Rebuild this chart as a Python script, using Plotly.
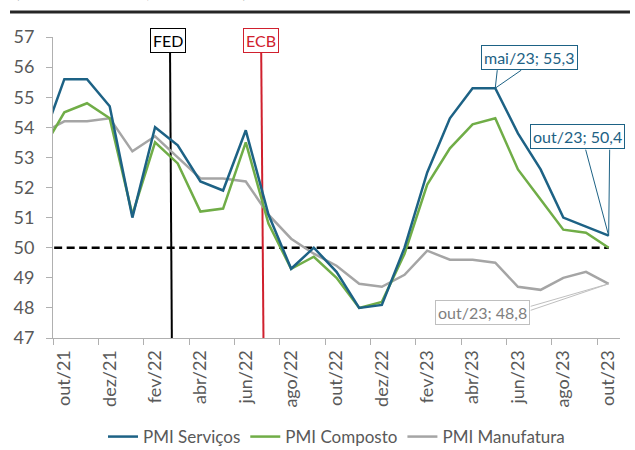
import plotly.graph_objects as go

# ---- data ----
months = ["set/21", "out/21", "nov/21", "dez/21", "jan/22", "fev/22", "mar/22", "abr/22",
          "mai/22", "jun/22", "jul/22", "ago/22", "set/22", "out/22", "nov/22", "dez/22",
          "jan/23", "fev/23", "mar/23", "abr/23", "mai/23", "jun/23", "jul/23", "ago/23",
          "set/23", "out/23"]
x_idx = list(range(-1, 25))  # set/21 sits just left of the visible window
servicos = [53.5, 55.6, 55.6, 54.7, 51.0, 54.0, 53.4, 52.2, 51.9, 53.9, 51.1, 49.3, 50.0,
            49.2, 48.0, 48.1, 50.0, 52.5, 54.3, 55.3, 55.3, 53.8, 52.6, 51.0, 50.7, 50.4]
composto = [53.2, 54.5, 54.8, 54.3, 51.1, 53.5, 52.8, 51.2, 51.3, 53.5, 50.8, 49.3, 49.7,
            49.0, 48.0, 48.2, 49.8, 52.1, 53.3, 54.1, 54.3, 52.6, 51.6, 50.6, 50.5, 50.0]
manufatura = [53.8, 54.2, 54.2, 54.3, 53.2, 53.7, 53.0, 52.3, 52.3, 52.2, 51.1, 50.3, 49.8,
              49.4, 48.8, 48.7, 49.1, 49.9, 49.6, 49.6, 49.5, 48.7, 48.6, 49.0, 49.2, 48.8]
neutro = [50] * len(months)

tick_vals = x_idx[1::2]
tick_text = months[1::2]

fed_x = [4.66, 4.74]
fed_y = [56.5, 47]
ecb_x = [8.68, 8.78]
ecb_y = [56.5, 47]

BLUE = "#1d6285"
GREEN = "#70ad47"
GRAY = "#a5a5a5"
RED = "#d0202e"
TXT = "#595959"
FONT = "Lato"

fig = go.Figure()

fig.add_trace(go.Scatter(x=x_idx, y=neutro, mode="lines", showlegend=False,
                         line=dict(color="black", width=2.5, dash="8px,4.5px"), hoverinfo="skip"))
fig.add_trace(go.Scatter(x=fed_x, y=fed_y, mode="lines", showlegend=False,
                         line=dict(color="black", width=2), hoverinfo="skip"))
fig.add_trace(go.Scatter(x=ecb_x, y=ecb_y, mode="lines", showlegend=False,
                         line=dict(color=RED, width=2), hoverinfo="skip"))
fig.add_trace(go.Scatter(x=x_idx, y=manufatura, mode="lines", name="PMI Manufatura",
                         line=dict(color=GRAY, width=2.5), legendrank=3))
fig.add_trace(go.Scatter(x=x_idx, y=composto, mode="lines", name="PMI Composto",
                         line=dict(color=GREEN, width=2.5), legendrank=2))
fig.add_trace(go.Scatter(x=x_idx, y=servicos, mode="lines", name="PMI Serviços",
                         line=dict(color=BLUE, width=2.5), legendrank=1))

i_mai = months.index("mai/23")
i_out = months.index("out/23")

annotations = [
    dict(x=fed_x[0], y=fed_y[0], xref="x", yref="y", text="FED", showarrow=False,
         xshift=-2, yshift=12, font=dict(family=FONT, size=16, color="black"),
         bgcolor="white", bordercolor="black", borderwidth=1, borderpad=2),
    dict(x=ecb_x[0], y=ecb_y[0], xref="x", yref="y", text="ECB", showarrow=False,
         xshift=0, yshift=12, font=dict(family=FONT, size=16, color=RED),
         bgcolor="white", bordercolor=RED, borderwidth=1, borderpad=2),
    dict(x=x_idx[i_mai], y=servicos[i_mai], xref="x", yref="y",
         text=f"{months[i_mai]}; {str(servicos[i_mai]).replace('.', ',')}", showarrow=False,
         xshift=34, yshift=31, font=dict(family=FONT, size=16, color=BLUE),
         bgcolor="white", bordercolor=BLUE, borderwidth=1, borderpad=2),
    dict(x=x_idx[i_out], y=servicos[i_out], xref="x", yref="y",
         text=f"{months[i_out]}; {str(servicos[i_out]).replace('.', ',')}", showarrow=False,
         xshift=-31, yshift=99.5, font=dict(family=FONT, size=16, color=BLUE),
         bgcolor="white", bordercolor=BLUE, borderwidth=1, borderpad=2),
    dict(x=x_idx[i_out], y=manufatura[i_out], xref="x", yref="y",
         text=f"{months[i_out]}; {str(manufatura[i_out]).replace('.', ',')}", showarrow=False,
         xshift=-126, yshift=-29, font=dict(family=FONT, size=16, color="#7f7f7f"),
         bgcolor="white", bordercolor="#bfbfbf", borderwidth=1, borderpad=2),
    dict(x=-0.0705, y=1.15, xref="paper", yref="paper", xanchor="left", yanchor="middle",
         text="(Índice de difusão; neutro = 50)", showarrow=False,
         font=dict(family=FONT, size=17, color=TXT)),
]

shapes = [
    dict(type="path", xref="x", yref="y", xsizemode="pixel", ysizemode="pixel",
         xanchor=x_idx[i_mai], yanchor=servicos[i_mai],
         path="M 2,18 L 0,0 L 26,18", line=dict(color=BLUE, width=1)),
    dict(type="path", xref="x", yref="y", xsizemode="pixel", ysizemode="pixel",
         xanchor=x_idx[i_out], yanchor=servicos[i_out],
         path="M -23,86 L 0,0 L 1,86", line=dict(color=BLUE, width=1)),
    dict(type="path", xref="x", yref="y", xsizemode="pixel", ysizemode="pixel",
         xanchor=x_idx[i_out], yanchor=manufatura[i_out],
         path="M -78,-22.5 L 0,0 L -78,-26.5", line=dict(color="#bfbfbf", width=1)),
    dict(type="line", xref="paper", yref="paper", x0=-0.0758, x1=1.0176, y0=1.0831, y1=1.0831,
         line=dict(color="#262626", width=3)),
]

fig.update_layout(
    width=635, height=450,
    margin=dict(l=53, r=15, t=37, b=112, autoexpand=False),
    plot_bgcolor="white", paper_bgcolor="white",
    font=dict(family=FONT, color=TXT),
    showlegend=True,
    legend=dict(orientation="h", x=0.5, xanchor="center", y=-0.329, yanchor="middle",
                font=dict(family=FONT, size=17, color=TXT), traceorder="normal",
                itemwidth=30, tracegroupgap=0),
    annotations=annotations,
    shapes=shapes,
)
fig.update_xaxes(range=[-0.5, 24.5], tickmode="array", tickvals=tick_vals, ticktext=tick_text,
                 tickangle=-90, ticks="", showgrid=False, zeroline=False,
                 showline=True, linecolor="#b0b0b0", linewidth=1,
                 tickfont=dict(family=FONT, size=18, color=TXT), automargin=False,
                 ticklabelstandoff=4,
                 minor=dict(tickvals=[v - 0.5 for v in x_idx[1::2]], ticks="outside",
                            ticklen=6, tickcolor="#b0b0b0", showgrid=False))
fig.update_yaxes(range=[47, 57], dtick=1, ticks="outside", ticklen=6, tickcolor="#b0b0b0",
                 showgrid=False, zeroline=False, showline=True, linecolor="#b0b0b0",
                 linewidth=1, tickfont=dict(family=FONT, size=18, color=TXT),
                 automargin=False, ticklabelstandoff=8)

fig.write_html("out.html", config={"displayModeBar": False},
               post_script="document.body.style.margin='0';document.body.style.overflow='hidden';")
